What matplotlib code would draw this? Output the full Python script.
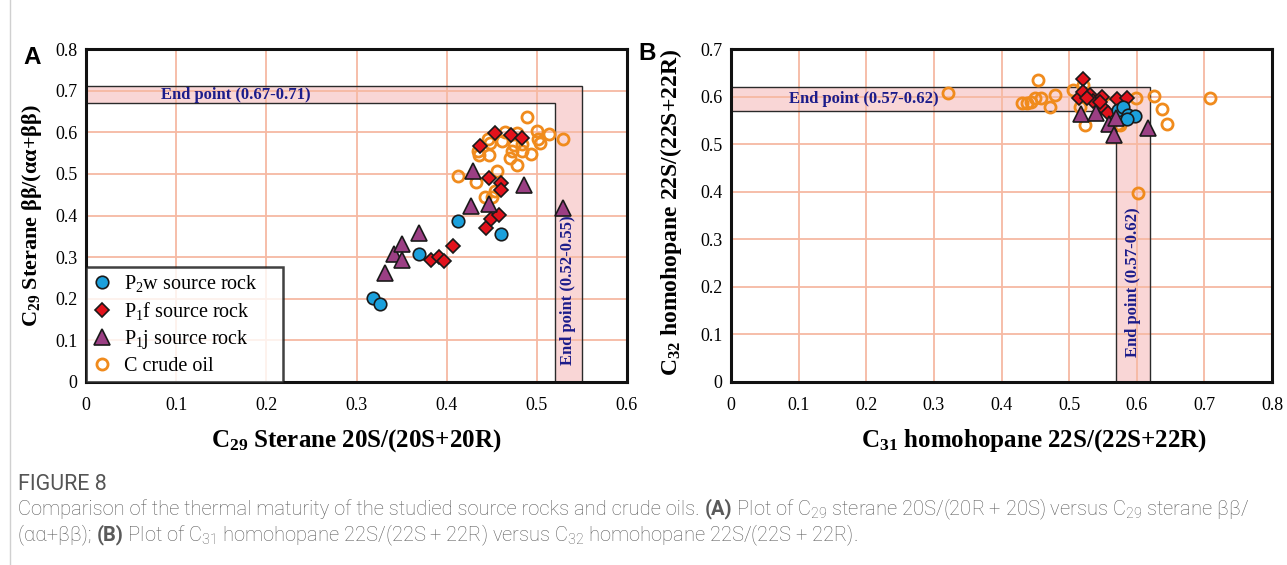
import matplotlib
matplotlib.use("Agg")
import matplotlib.pyplot as plt
from matplotlib.patches import Polygon
from matplotlib.lines import Line2D

plt.rcParams['font.family'] = ['Liberation Serif', 'DejaVu Serif']
plt.rcParams['mathtext.fontset'] = 'custom'
plt.rcParams['mathtext.rm'] = 'Liberation Serif'
plt.rcParams['mathtext.default'] = 'regular'

# ---------------- Panel A: C29 sterane maturity ----------------
a_p2w_x = [0.318, 0.326, 0.369, 0.413, 0.460]
a_p2w_y = [0.201, 0.187, 0.307, 0.386, 0.355]

a_p1f_x = [0.383, 0.391, 0.397, 0.407, 0.444, 0.449, 0.458, 0.447, 0.460, 0.460,
           0.437, 0.454, 0.471, 0.484]
a_p1f_y = [0.293, 0.301, 0.291, 0.327, 0.369, 0.391, 0.401, 0.491, 0.478, 0.462,
           0.567, 0.599, 0.594, 0.587]

a_p1j_x = [0.332, 0.342, 0.350, 0.350, 0.369, 0.427, 0.429, 0.447, 0.486, 0.529]
a_p1j_y = [0.263, 0.308, 0.332, 0.292, 0.357, 0.423, 0.506, 0.428, 0.474, 0.418]

a_oil_x = [0.489, 0.529, 0.513, 0.500, 0.501, 0.503, 0.465, 0.461, 0.478, 0.475,
           0.472, 0.483, 0.494, 0.470, 0.478, 0.446, 0.435, 0.436, 0.447, 0.456,
           0.413, 0.432, 0.454, 0.450, 0.443, 0.448, 0.483]
a_oil_y = [0.636, 0.583, 0.596, 0.602, 0.583, 0.574, 0.600, 0.578, 0.598, 0.570,
           0.554, 0.554, 0.547, 0.538, 0.522, 0.583, 0.554, 0.546, 0.546, 0.508,
           0.494, 0.480, 0.460, 0.445, 0.444, 0.575, 0.572]

a_end_y = (0.67, 0.71)   # end point of beta-beta ratio
a_end_x = (0.52, 0.55)   # end point of 20S ratio
a_xticks = [0, 0.1, 0.2, 0.3, 0.4, 0.5, 0.6]
a_yticks = [0, 0.1, 0.2, 0.3, 0.4, 0.5, 0.6, 0.7, 0.8]

# ---------------- Panel B: homohopane maturity ----------------
b_p2w_x = [0.572, 0.580, 0.587, 0.597, 0.585]
b_p2w_y = [0.572, 0.579, 0.561, 0.560, 0.553]

b_p1f_x = [0.521, 0.515, 0.520, 0.531, 0.535, 0.548, 0.549, 0.558, 0.546, 0.571,
           0.585, 0.527]
b_p1f_y = [0.637, 0.596, 0.610, 0.603, 0.591, 0.600, 0.579, 0.565, 0.589, 0.594,
           0.598, 0.596]

b_p1j_x = [0.518, 0.540, 0.559, 0.566, 0.569, 0.617]
b_p1j_y = [0.563, 0.565, 0.542, 0.519, 0.556, 0.533]

b_oil_x = [0.708, 0.625, 0.637, 0.645, 0.602, 0.599, 0.454, 0.479, 0.459, 0.449,
           0.444, 0.437, 0.431, 0.471, 0.506, 0.521, 0.523, 0.516, 0.575, 0.321,
           0.560, 0.573]
b_oil_y = [0.598, 0.601, 0.573, 0.542, 0.397, 0.596, 0.635, 0.603, 0.596, 0.596,
           0.589, 0.586, 0.586, 0.579, 0.614, 0.624, 0.540, 0.579, 0.540, 0.608,
           0.585, 0.543]

b_end_y = (0.57, 0.62)
b_end_x = (0.57, 0.62)
b_xticks = [0, 0.1, 0.2, 0.3, 0.4, 0.5, 0.6, 0.7, 0.8]
b_yticks = [0, 0.1, 0.2, 0.3, 0.4, 0.5, 0.6, 0.7]

series_labels = ['P$_2$w source rock', 'P$_1$f source rock',
                 'P$_1$j source rock', 'C crude oil']

# ---------------- styling ----------------
C_BLUE = '#1ba0dc'
C_RED = '#e2121c'
C_PURPLE = '#9b3f84'
C_ORANGE = '#f08b1d'
C_EDGE = '#1a1a1a'
C_GRID = '#f6b9a2'
C_BAND = '#f9d6d6'
C_NAVY = '#1c1c8a'


def fmt_tick(v):
    return '0' if v == 0 else f'{v:.1f}'


def end_band(ax, xr, yr):
    verts = [(0, yr[0]), (xr[0], yr[0]), (xr[0], 0), (xr[1], 0), (xr[1], yr[1]), (0, yr[1])]
    ax.add_patch(Polygon(verts, closed=True, facecolor=C_BAND, edgecolor='none', zorder=0.5))
    ax.add_patch(Polygon(verts, closed=True, facecolor='none', edgecolor='#2a2a2a',
                         lw=1.0, zorder=1.5))


def setup_axes(ax, xticks, yticks):
    ax.set_xlim(xticks[0], xticks[-1])
    ax.set_ylim(yticks[0], yticks[-1])
    ax.set_xticks(xticks)
    ax.set_yticks(yticks)
    ax.set_xticklabels([fmt_tick(v) for v in xticks])
    ax.set_yticklabels([fmt_tick(v) for v in yticks])
    ax.tick_params(axis='x', length=0, pad=11, labelsize=13)
    ax.tick_params(axis='y', length=0, pad=6, labelsize=13)
    for v in xticks[1:-1]:
        ax.axvline(v, color=C_GRID, lw=1.3, zorder=1)
    for v in yticks[1:-1]:
        ax.axhline(v, color=C_GRID, lw=1.3, zorder=1)
    for s in ax.spines.values():
        s.set_linewidth(2.2)
        s.set_color('#111111')
        s.set_zorder(5)


def draw_points(ax, p2w, p1f, p1j, oil):
    h_oil, = ax.plot(oil[0], oil[1], 'o', ls='none', ms=8.0, mfc='none', mec=C_ORANGE,
                     mew=2.0, zorder=3, label=series_labels[3])
    h_f, = ax.plot(p1f[0], p1f[1], 'D', ls='none', ms=6.8, mfc=C_RED, mec=C_EDGE,
                   mew=1.2, zorder=4, label=series_labels[1])
    h_w, = ax.plot(p2w[0], p2w[1], 'o', ls='none', ms=9.0, mfc=C_BLUE, mec=C_EDGE,
                   mew=1.2, zorder=4, label=series_labels[0])
    h_j, = ax.plot(p1j[0], p1j[1], '^', ls='none', ms=11, mfc=C_PURPLE, mec=C_EDGE,
                   mew=1.2, zorder=4, label=series_labels[2])
    return [h_w, h_f, h_j, h_oil]


fig = plt.figure(figsize=(12.87, 5.65), dpi=100)
W, H = 1287, 565

axA = fig.add_axes([86 / W, 1 - 382 / H, (627 - 86) / W, (382 - 49) / H])
axB = fig.add_axes([731 / W, 1 - 382 / H, (1272 - 731) / W, (382 - 49) / H])

BAND_FS = 12

# Panel A
setup_axes(axA, a_xticks, a_yticks)
end_band(axA, a_end_x, a_end_y)
handles = draw_points(axA, (a_p2w_x, a_p2w_y), (a_p1f_x, a_p1f_y),
                      (a_p1j_x, a_p1j_y), (a_oil_x, a_oil_y))
axA.text(0.166, sum(a_end_y) / 2, f'End point ({a_end_y[0]:.2f}-{a_end_y[1]:.2f})',
         color=C_NAVY, fontsize=BAND_FS, fontweight='bold', ha='center', va='center', zorder=2)
axA.text(sum(a_end_x) / 2, 0.22, f'End point ({a_end_x[0]:.2f}-{a_end_x[1]:.2f})',
         color=C_NAVY, fontsize=BAND_FS, fontweight='bold', ha='center', va='center',
         rotation=90, zorder=2)
axA.set_xlabel('C$_{29}$ Sterane 20S/(20S+20R)', fontsize=18, fontweight='bold')
axA.xaxis.set_label_coords(0.5, -0.135)
axA.set_ylabel('C$_{29}$ Sterane ββ/(αα+ββ)', fontsize=16, fontweight='bold', labelpad=8)
leg = axA.legend(handles=handles, loc='lower left', bbox_to_anchor=(0, 0, 0.364, 0.3),
                 mode='expand', fontsize=14.5,
                 frameon=True, fancybox=False, borderaxespad=0, handlelength=1.0,
                 handletextpad=0.6, labelspacing=0.3, borderpad=0.3)
leg.get_frame().set_edgecolor('#111111')
leg.get_frame().set_linewidth(1.8)
leg.set_zorder(6)

# Panel B
setup_axes(axB, b_xticks, b_yticks)
end_band(axB, b_end_x, b_end_y)
draw_points(axB, (b_p2w_x, b_p2w_y), (b_p1f_x, b_p1f_y),
            (b_p1j_x, b_p1j_y), (b_oil_x, b_oil_y))
axB.text(0.196, sum(b_end_y) / 2, f'End point ({b_end_y[0]:.2f}-{b_end_y[1]:.2f})',
         color=C_NAVY, fontsize=BAND_FS, fontweight='bold', ha='center', va='center', zorder=2)
axB.text(sum(b_end_x) / 2, 0.21, f'End point ({b_end_x[0]:.2f}-{b_end_x[1]:.2f})',
         color=C_NAVY, fontsize=BAND_FS, fontweight='bold', ha='center', va='center',
         rotation=90, zorder=2)
axB.set_xlabel('C$_{31}$ homohopane 22S/(22S+22R)', fontsize=18, fontweight='bold')
axB.xaxis.set_label_coords(0.56, -0.135)
axB.set_ylabel('C$_{32}$ homohopane 22S/(22S+22R)', fontsize=17, fontweight='bold')
axB.yaxis.set_label_coords(-0.087, 0.51)

# Panel letters
fig.text(23 / W, 1 - 57 / H, 'A', family='Liberation Sans', fontweight='bold', fontsize=17.5,
         va='center', ha='left')
fig.text(638 / W, 1 - 54 / H, 'B', family='Liberation Sans', fontweight='bold', fontsize=17.5,
         va='center', ha='left')

# Page margin rule
fig.add_artist(Line2D([10 / W, 10 / W], [0, 1], color='#d0d0d0', lw=1.0))

# Caption
CAP_FONT = ['Roboto', 'DejaVu Sans']
fig.text(18 / W, 1 - 485 / H, 'FIGURE 8', family=CAP_FONT, fontsize=15.5, color='#555555',
         va='center', ha='left')

fig.canvas.draw()
renderer = fig.canvas.get_renderer()


def rich_line(x_px, y_px, parts, size):
    x = x_px / W
    for s, w in parts:
        t = fig.text(x, 1 - y_px / H, s, family=CAP_FONT, fontweight=w, fontsize=size,
                     color='#5a5a5a', va='center', ha='left')
        bb = t.get_window_extent(renderer)
        x += bb.width / fig.bbox.width


CAP_FS = 14.5
rich_line(18, 509, [
    ('Comparison of the thermal maturity of the studied source rocks and crude oils. ', 'light'),
    ('(A)', 'bold'),
    (' Plot of C$_{29}$ sterane 20S/(20R + 20S) versus C$_{29}$ sterane ββ/', 'light'),
], CAP_FS)
rich_line(18, 535, [
    ('(αα+ββ); ', 'light'),
    ('(B)', 'bold'),
    (' Plot of C$_{31}$ homohopane 22S/(22S + 22R) versus C$_{32}$ homohopane 22S/(22S + 22R).', 'light'),
], CAP_FS)

fig.savefig('out.png', dpi=100)
